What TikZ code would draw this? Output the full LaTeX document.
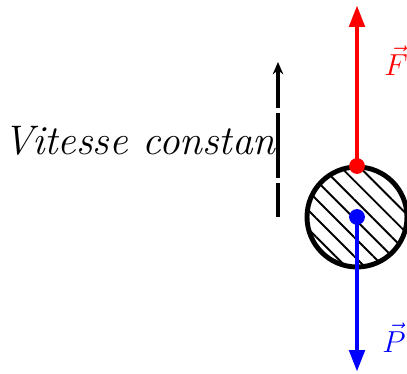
\documentclass[tikz,border=0pt]{standalone}
\usepackage{amsmath}
\usetikzlibrary{arrows.meta,patterns.meta,positioning}

\begin{document}
\begin{tikzpicture}[x=0.02cm,y=-0.02cm,
  force/.style={line width=2.8pt,-{Triangle[length=12.5pt,width=8.5pt]}},
  dot/.style={circle,fill,inner sep=0pt,minimum size=9pt}]
  \clip (0,0) rectangle (407,374);
  % ball
  \node[circle,draw,line width=2.8pt,minimum size=2cm,
    pattern={Lines[angle=-45,distance=7.6pt,line width=1.1pt]}] (ball) at (357,217) {};
  \coordinate (Ftip) at (357,5);
  \coordinate (Ptip) at (357,372);
  \draw[force,red] (ball.north) -- (Ftip);
  \draw[force,blue] (ball.center) -- (Ptip);
  \node[dot,red] (A) at (ball.north) {};
  \node[dot,blue] (G) at (ball.center) {};
  \node[red,anchor=west,inner sep=0pt,font=\LARGE] (Flab) at (384,61) {$\vec{F}$};
  \node[blue,anchor=west,inner sep=0pt,font=\LARGE] (Plab) at (382,338) {$\vec{P}$};
  % speed
  \coordinate (v0) at (278,217);
  \coordinate (v1) at (278,62);
  \node[anchor=base east,inner sep=0pt,font=\fontsize{23.5}{28}\selectfont\itshape] (vlab) at (276,155) {Vitesse constan};
  \draw[line width=2.3pt,dash pattern=on 36.9pt off 2.8pt,dash phase=17.6pt,
    -{Stealth[length=7pt,width=6pt]}] (v0) -- (v1);
\end{tikzpicture}
\end{document}
